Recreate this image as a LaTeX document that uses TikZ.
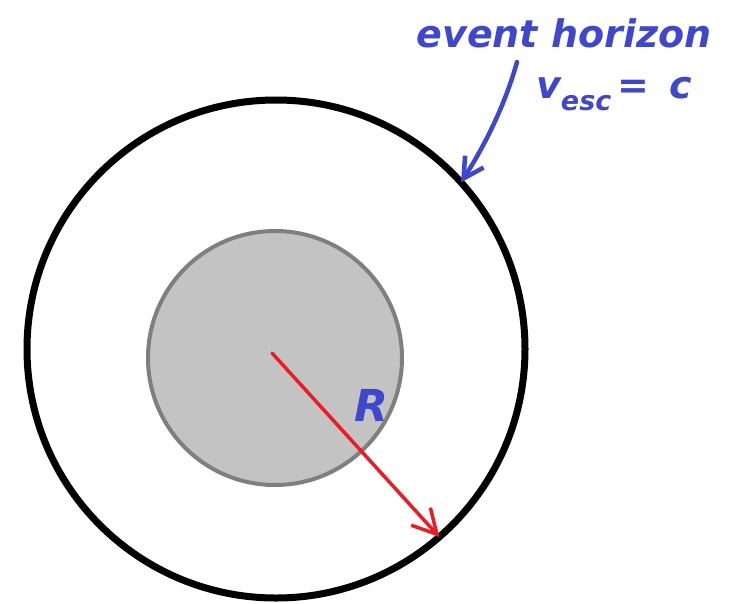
\documentclass[tikz,border=0pt]{standalone}
\usepackage{fontspec}
\setmainfont{DejaVu Sans}
\usetikzlibrary{arrows.meta}
\definecolor{hblue}{HTML}{3F48CC}
\definecolor{hred}{HTML}{ED1C24}
\definecolor{cfill}{HTML}{C3C3C3}
\definecolor{cdraw}{HTML}{7F7F7F}
\tikzset{
  horizon/.style={circle, draw=black, line width=7pt, inner sep=0pt, outer sep=0pt, minimum size=498pt},
  star/.style={circle, draw=cdraw, fill=cfill, line width=4pt, inner sep=0pt, outer sep=0pt, minimum size=254pt},
  radius arrow/.style={draw=hred, line width=3.5pt, line cap=round, -{Straight Barb[length=24pt,width=26pt,line width=3.5pt]}},
  label arrow/.style={draw=hblue, line width=4.5pt, line cap=round, -{Straight Barb[length=20pt,width=22pt,line width=4.5pt]}},
  bluetext/.style={text=hblue, font=\bfseries\itshape, inner sep=0pt},
}
\begin{document}
\begin{tikzpicture}[x=1pt,y=-1pt]
\useasboundingbox (0,0) rectangle (734,603);
\node[horizon] (eh) at (276,349) {};
\node[star] (st) at (275,358) {};
\coordinate (c) at (272,353);
\draw[radius arrow] (c) -- (eh.-49);
\node[bluetext, font=\fontsize{44pt}{44pt}\selectfont\bfseries\itshape] (R) at (371,405) {R};
\node[bluetext, anchor=base, font=\fontsize{38pt}{38pt}\selectfont\bfseries\itshape] (t1) at (564,47) {event horizon};
\node[bluetext, anchor=base west, font=\fontsize{38pt}{38pt}\selectfont\bfseries\itshape] (t2) at (536,98) {v\raisebox{-12pt}{\fontsize{27pt}{27pt}\selectfont esc}\,= \,c};
\coordinate (s) at (517,62);
\draw[label arrow] (s) .. controls (505,105) and (485,145) .. (eh.42.5);
\end{tikzpicture}
\end{document}
